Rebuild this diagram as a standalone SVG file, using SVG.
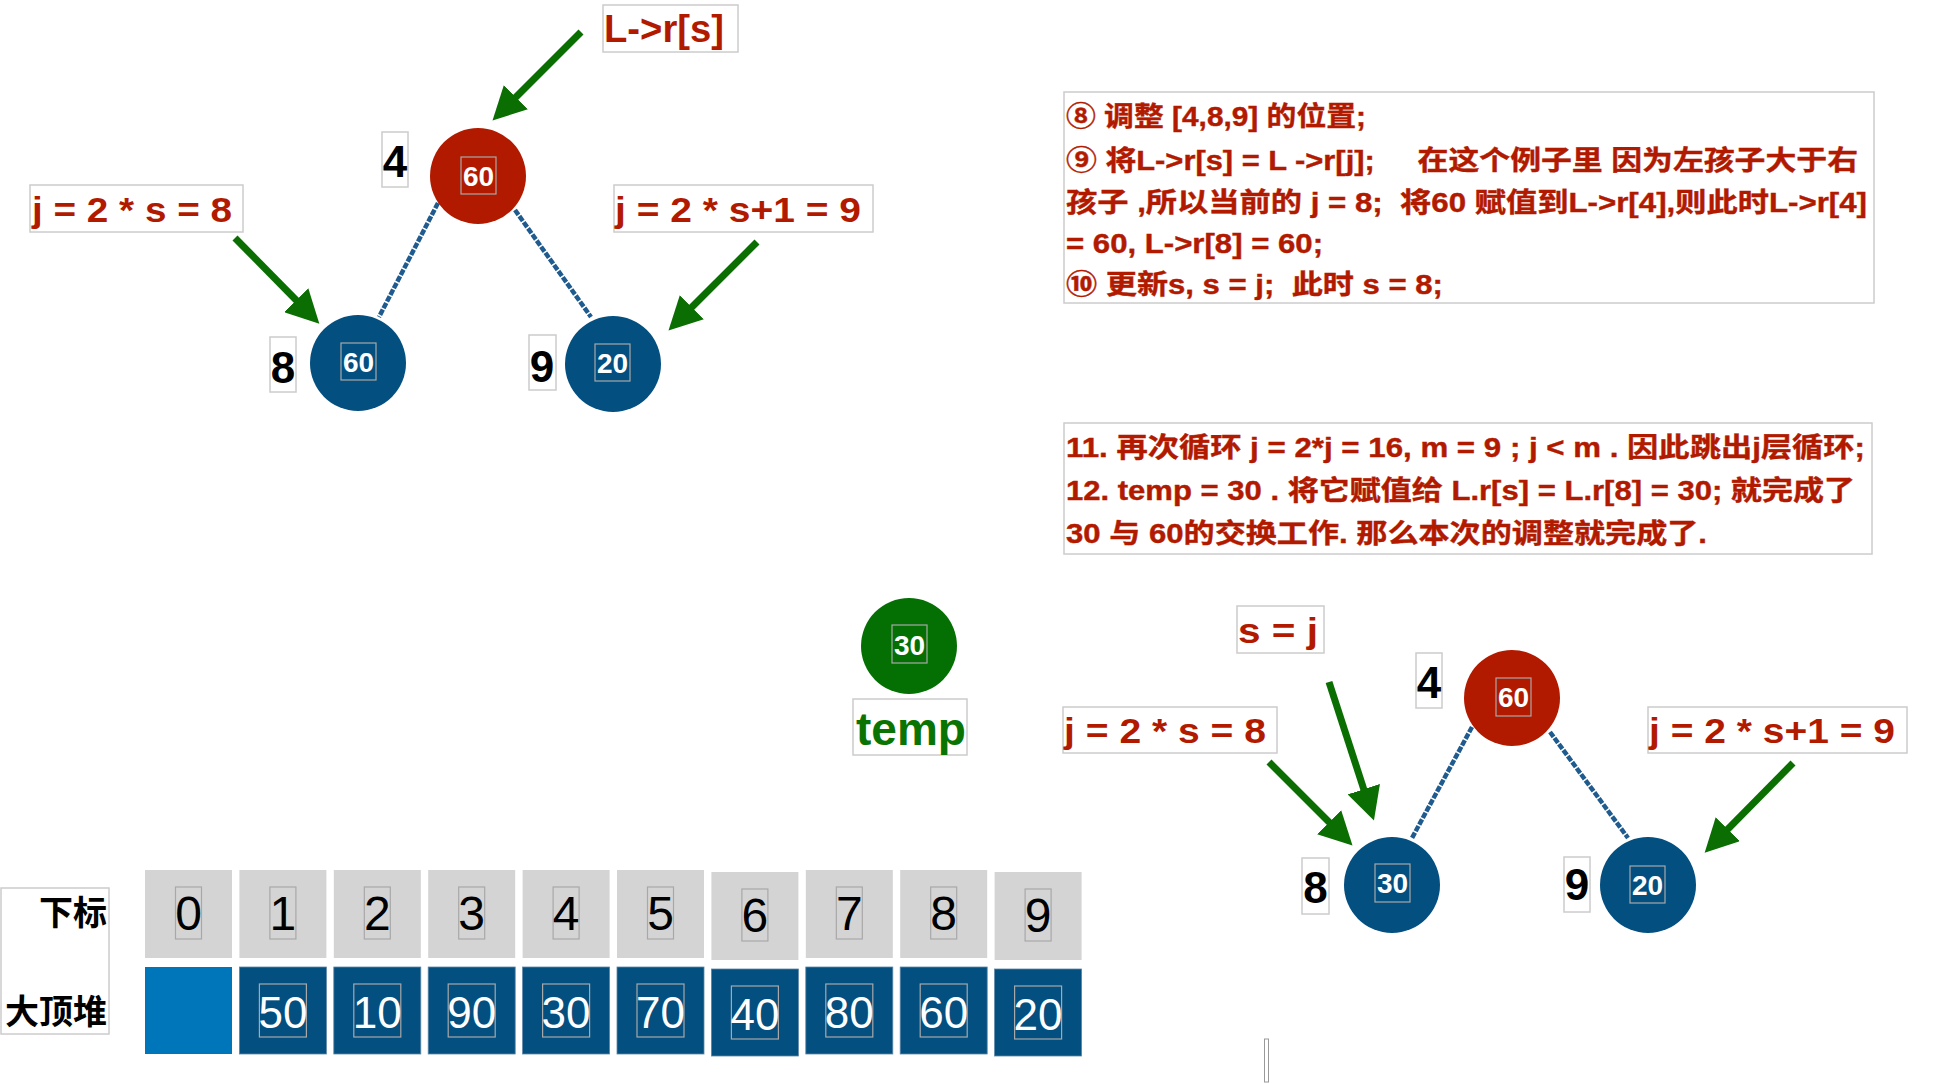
<svg xmlns="http://www.w3.org/2000/svg" width="1938" height="1084" viewBox="0 0 1938 1084">
<style>
.bg{fill:#ffffff}
.lbox{fill:#ffffff;stroke:#cccccc;stroke-width:1.5}
.ibox{fill:none;stroke:#a8a8a8;stroke-width:1.2}
.red{fill:#b21a00}
.blue{fill:#034f80}
.green{fill:#047003}
.red-t{fill:#b21a00;font-family:'Liberation Sans','Noto Sans CJK SC',sans-serif;font-weight:bold}
.para{fill:#b21a00;font-family:'Liberation Sans','Noto Sans CJK SC',sans-serif;font-weight:bold;font-size:27px;white-space:pre;stroke:#b21a00;stroke-width:0.4}
.num{fill:#000000;font-family:'Liberation Sans',sans-serif;font-weight:bold;font-size:44px;text-anchor:middle}
.in{fill:#ffffff;font-family:'Liberation Sans',sans-serif;font-weight:bold;font-size:28px;text-anchor:middle}
.edge{stroke:#1f5b8e;stroke-width:4.5;stroke-dasharray:6 1.5;fill:none}
.arr{stroke:#0a6e02;stroke-width:7;fill:none;marker-end:url(#ah)}
.idx{fill:#d4d4d4}
.val{fill:#034f80;stroke:#5d87a8;stroke-width:0.8}
.idt{fill:#000000;font-family:'Liberation Sans',sans-serif;font-size:48px;text-anchor:middle}
.vt{fill:#ffffff;font-family:'Liberation Sans',sans-serif;font-size:44px;text-anchor:middle}
.cjk{fill:#000000;font-family:'Noto Sans CJK SC',sans-serif;font-weight:bold;font-size:34px;text-anchor:end}
</style>
<defs>
<marker id="ah" markerUnits="userSpaceOnUse" markerWidth="34" markerHeight="34" viewBox="0 0 34 34" refX="4" refY="17" orient="auto">
<path d="M0,0 L33,17 L0,34 Z" fill="#0a6e02"/>
</marker>
</defs>
<rect class="bg" x="0" y="0" width="1938" height="1084"/>

<g id="connectors">
<line class="edge" x1="438" y1="203" x2="379" y2="317"/>
<line class="edge" x1="515" y1="210" x2="591" y2="317"/>
<line class="edge" x1="1472" y1="727" x2="1412" y2="838"/>
<line class="edge" x1="1550" y1="732" x2="1628" y2="838"/>
<line class="arr" x1="581" y1="32" x2="513" y2="100"/>
<line class="arr" x1="235" y1="238" x2="299" y2="303"/>
<line class="arr" x1="757" y1="242" x2="689" y2="310"/>
<line class="arr" x1="1329" y1="682" x2="1365" y2="793"/>
<line class="arr" x1="1269" y1="762" x2="1332" y2="825"/>
<line class="arr" x1="1793" y1="763" x2="1725" y2="832"/>
</g>

<g id="top-label-lrs">
<rect class="lbox" x="603" y="5" width="135" height="47"/>
<text class="red-t" x="604" y="42" font-size="38" textLength="120" lengthAdjust="spacingAndGlyphs">L-&gt;r[s]</text>
</g>
<g id="top-label-left">
<rect class="lbox" x="30" y="185" width="213" height="47"/>
<text class="red-t" x="32" y="222" font-size="35" textLength="200" lengthAdjust="spacingAndGlyphs">j = 2 * s = 8</text>
</g>
<g id="top-label-right">
<rect class="lbox" x="614" y="185" width="259" height="47"/>
<text class="red-t" x="615" y="222" font-size="35" textLength="246" lengthAdjust="spacingAndGlyphs">j = 2 * s+1 = 9</text>
</g>

<g id="top-node-4">
<rect class="lbox" x="382" y="132" width="26" height="55"/>
<text class="num" x="395" y="177">4</text>
<circle class="red" cx="478" cy="176" r="48"/>
<rect class="ibox" x="461" y="157" width="35" height="37"/>
<text class="in" x="478.5" y="186">60</text>
</g>
<g id="top-node-8">
<rect class="lbox" x="270" y="337" width="26" height="55"/>
<text class="num" x="283" y="383">8</text>
<circle class="blue" cx="358" cy="363" r="48"/>
<rect class="ibox" x="341" y="343" width="35" height="37"/>
<text class="in" x="358.5" y="372">60</text>
</g>
<g id="top-node-9">
<rect class="lbox" x="529" y="335" width="27" height="55"/>
<text class="num" x="542" y="382">9</text>
<circle class="blue" cx="613" cy="364" r="48"/>
<rect class="ibox" x="595" y="344" width="35" height="37"/>
<text class="in" x="612.5" y="373">20</text>
</g>

<g id="note-1">
<rect class="lbox" x="1064" y="92" width="810" height="211"/>
<text class="para" x="1066" y="126" textLength="300" lengthAdjust="spacingAndGlyphs">⑧ 调整 [4,8,9] 的位置;</text>
<text class="para" x="1066" y="170" textLength="792" lengthAdjust="spacingAndGlyphs">⑨ 将L-&gt;r[s] = L -&gt;r[j];     在这个例子里 因为左孩子大于右</text>
<text class="para" x="1066" y="212" textLength="801" lengthAdjust="spacingAndGlyphs">孩子 ,所以当前的 j = 8;  将60 赋值到L-&gt;r[4],则此时L-&gt;r[4]</text>
<text class="para" x="1066" y="253" textLength="257" lengthAdjust="spacingAndGlyphs">= 60, L-&gt;r[8] = 60;</text>
<text class="para" x="1066" y="294" textLength="377" lengthAdjust="spacingAndGlyphs">⑩ 更新s, s = j;  此时 s = 8;</text>
</g>

<g id="note-2">
<rect class="lbox" x="1064" y="423" width="808" height="131"/>
<text class="para" x="1066" y="457" textLength="799" lengthAdjust="spacingAndGlyphs">11. 再次循环 j = 2*j = 16, m = 9 ; j &lt; m . 因此跳出j层循环;</text>
<text class="para" x="1066" y="500" textLength="789" lengthAdjust="spacingAndGlyphs">12. temp = 30 . 将它赋值给 L.r[s] = L.r[8] = 30; 就完成了</text>
<text class="para" x="1066" y="543" textLength="641" lengthAdjust="spacingAndGlyphs">30 与 60的交换工作. 那么本次的调整就完成了.</text>
</g>

<g id="temp-node">
<circle class="green" cx="909" cy="646" r="48"/>
<rect class="ibox" x="892" y="625" width="35" height="38"/>
<text class="in" x="909.5" y="655">30</text>
<rect class="lbox" x="853" y="699" width="114" height="56"/>
<text x="856" y="745" font-family="'Liberation Sans',sans-serif" font-weight="bold" font-size="46" fill="#0a7402" textLength="110" lengthAdjust="spacingAndGlyphs">temp</text>
</g>

<g id="bottom-label-sj">
<rect class="lbox" x="1237" y="606" width="87" height="47"/>
<text class="red-t" x="1238" y="643" font-size="35" textLength="80" lengthAdjust="spacingAndGlyphs">s = j</text>
</g>
<g id="bottom-label-left">
<rect class="lbox" x="1063" y="707" width="214" height="46"/>
<text class="red-t" x="1064" y="743" font-size="35" textLength="202" lengthAdjust="spacingAndGlyphs">j = 2 * s = 8</text>
</g>
<g id="bottom-label-right">
<rect class="lbox" x="1648" y="707" width="259" height="46"/>
<text class="red-t" x="1649" y="743" font-size="35" textLength="246" lengthAdjust="spacingAndGlyphs">j = 2 * s+1 = 9</text>
</g>

<g id="bottom-node-4">
<rect class="lbox" x="1416" y="653" width="26" height="55"/>
<text class="num" x="1429" y="698">4</text>
<circle class="red" cx="1512" cy="698" r="48"/>
<rect class="ibox" x="1496" y="678" width="35" height="38"/>
<text class="in" x="1513.5" y="707">60</text>
</g>
<g id="bottom-node-8">
<rect class="lbox" x="1302" y="858" width="27" height="56"/>
<text class="num" x="1315.5" y="903">8</text>
<circle class="blue" cx="1392" cy="885" r="48"/>
<rect class="ibox" x="1375" y="864" width="35" height="38"/>
<text class="in" x="1392.5" y="893">30</text>
</g>
<g id="bottom-node-9">
<rect class="lbox" x="1564" y="857" width="26" height="55"/>
<text class="num" x="1577" y="900">9</text>
<circle class="blue" cx="1648" cy="885" r="48"/>
<rect class="ibox" x="1630" y="866" width="35" height="37"/>
<text class="in" x="1647.5" y="895">20</text>
</g>

<g id="array-labels">
<rect class="lbox" x="1" y="888" width="108" height="146"/>
<text class="cjk" x="107" y="925">下标</text>
<text class="cjk" x="107" y="1024">大顶堆</text>
</g>

<g id="array-index">
<rect class="idx" x="145" y="870" width="87" height="88"/>
<rect class="ibox" x="175.5" y="887" width="26" height="52"/>
<text class="idt" x="188.5" y="930">0</text>
<rect class="idx" x="239.4" y="870" width="87" height="88"/>
<rect class="ibox" x="269.9" y="887" width="26" height="52"/>
<text class="idt" x="282.9" y="930">1</text>
<rect class="idx" x="333.8" y="870" width="87" height="88"/>
<rect class="ibox" x="364.3" y="887" width="26" height="52"/>
<text class="idt" x="377.3" y="930">2</text>
<rect class="idx" x="428.2" y="870" width="87" height="88"/>
<rect class="ibox" x="458.7" y="887" width="26" height="52"/>
<text class="idt" x="471.7" y="930">3</text>
<rect class="idx" x="522.6" y="870" width="87" height="88"/>
<rect class="ibox" x="553.1" y="887" width="26" height="52"/>
<text class="idt" x="566.1" y="930">4</text>
<rect class="idx" x="617" y="870" width="87" height="88"/>
<rect class="ibox" x="647.5" y="887" width="26" height="52"/>
<text class="idt" x="660.5" y="930">5</text>
<rect class="idx" x="711.4" y="872" width="87" height="88"/>
<rect class="ibox" x="741.9" y="889" width="26" height="52"/>
<text class="idt" x="754.9" y="932">6</text>
<rect class="idx" x="805.8" y="870" width="87" height="88"/>
<rect class="ibox" x="836.3" y="887" width="26" height="52"/>
<text class="idt" x="849.3" y="930">7</text>
<rect class="idx" x="900.2" y="870" width="87" height="88"/>
<rect class="ibox" x="930.7" y="887" width="26" height="52"/>
<text class="idt" x="943.7" y="930">8</text>
<rect class="idx" x="994.6" y="872" width="87" height="88"/>
<rect class="ibox" x="1025.1" y="889" width="26" height="52"/>
<text class="idt" x="1038.1" y="932">9</text>
</g>

<g id="array-values">
<rect x="145" y="967" width="87" height="87" fill="#0076ba"/>
<rect class="val" x="239.4" y="967" width="87" height="87"/>
<rect class="ibox" x="259.4" y="984" width="47" height="53"/>
<text class="vt" x="282.9" y="1028">50</text>
<rect class="val" x="333.8" y="967" width="87" height="87"/>
<rect class="ibox" x="353.8" y="984" width="47" height="53"/>
<text class="vt" x="377.3" y="1028">10</text>
<rect class="val" x="428.2" y="967" width="87" height="87"/>
<rect class="ibox" x="448.2" y="984" width="47" height="53"/>
<text class="vt" x="471.7" y="1028">90</text>
<rect class="val" x="522.6" y="967" width="87" height="87"/>
<rect class="ibox" x="542.6" y="984" width="47" height="53"/>
<text class="vt" x="566.1" y="1028">30</text>
<rect class="val" x="617" y="967" width="87" height="87"/>
<rect class="ibox" x="637" y="984" width="47" height="53"/>
<text class="vt" x="660.5" y="1028">70</text>
<rect class="val" x="711.4" y="969" width="87" height="87"/>
<rect class="ibox" x="731.4" y="986" width="47" height="53"/>
<text class="vt" x="754.9" y="1030">40</text>
<rect class="val" x="805.8" y="967" width="87" height="87"/>
<rect class="ibox" x="825.8" y="984" width="47" height="53"/>
<text class="vt" x="849.3" y="1028">80</text>
<rect class="val" x="900.2" y="967" width="87" height="87"/>
<rect class="ibox" x="920.2" y="984" width="47" height="53"/>
<text class="vt" x="943.7" y="1028">60</text>
<rect class="val" x="994.6" y="969" width="87" height="87"/>
<rect class="ibox" x="1014.6" y="986" width="47" height="53"/>
<text class="vt" x="1038.1" y="1030">20</text>
</g>

<g id="empty-box">
<rect x="1264.5" y="1039" width="4" height="43" fill="#ffffff" stroke="#999999" stroke-width="1"/>
</g>
</svg>
